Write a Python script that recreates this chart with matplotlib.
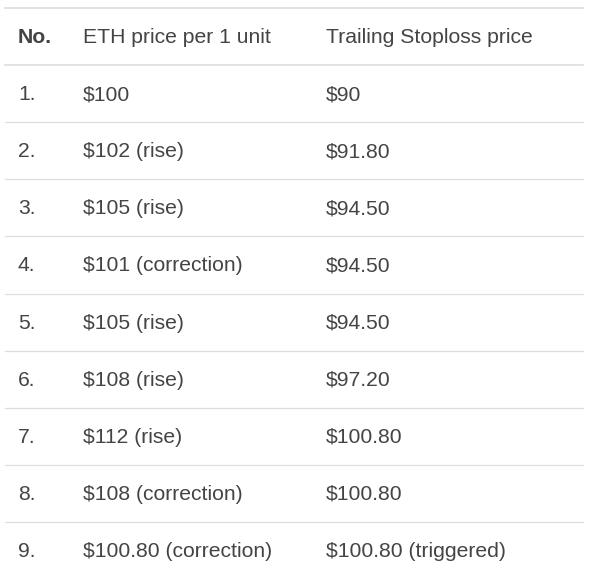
import matplotlib
matplotlib.use('Agg')
import matplotlib.pyplot as plt

headers = ['No.', 'ETH price per 1 unit', 'Trailing Stoploss price']
numbers = ['1.', '2.', '3.', '4.', '5.', '6.', '7.', '8.', '9.']
eth_prices = ['$100', '$102 (rise)', '$105 (rise)', '$101 (correction)', '$105 (rise)',
              '$108 (rise)', '$112 (rise)', '$108 (correction)', '$100.80 (correction)']
stoploss = ['$90', '$91.80', '$94.50', '$94.50', '$94.50', '$97.20', '$100.80',
            '$100.80', '$100.80 (triggered)']

W, H = 589, 585
fig = plt.figure(figsize=(W / 100, H / 100), dpi=100)
ax = fig.add_axes([0, 0, 1, 1])
ax.set_xlim(0, W)
ax.set_ylim(H, 0)
ax.axis('off')

top, row_h = 8, 57.1
col_x = [18, 83, 326]
txt = '#444444'
line = '#dddddd'

for i in range(len(numbers) + 1):
    y = top + i * row_h
    lw = 1.2 if i in (0, 1) else 0.9
    ax.plot([5, 583], [y, y], color=line, lw=lw)

rows = [headers] + [list(r) for r in zip(numbers, eth_prices, stoploss)]
for i, row in enumerate(rows):
    yc = top + (i + 0.5) * row_h + 1
    for j, (x, s) in enumerate(zip(col_x, row)):
        ax.text(x, yc, s, va='center', ha='left', fontsize=15.2,
                family='Liberation Sans', color=txt,
                fontweight='bold' if (i == 0 and j == 0) else 'normal')

fig.savefig('out.png', dpi=100)
